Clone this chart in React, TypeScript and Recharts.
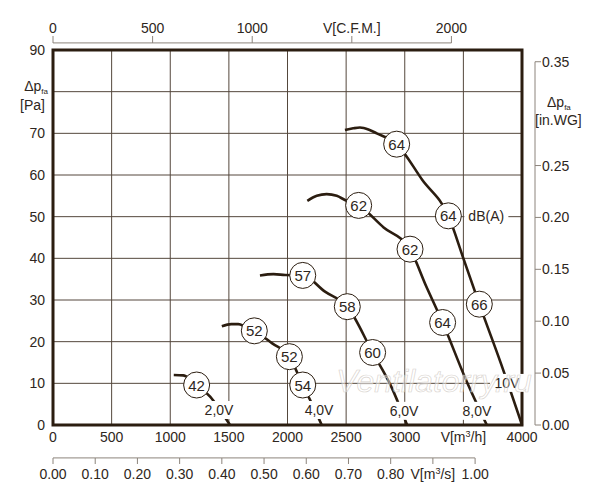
import {
  ComposedChart, Line, Scatter, XAxis, YAxis, CartesianGrid, ReferenceArea, ReferenceLine, ReferenceDot,
} from 'recharts';

// main scales
const flowTicks = [0, 500, 1000, 1500, 2000, 2500, 3000, 3500, 4000];
const paTicks = [0, 10, 20, 30, 40, 50, 60, 70, 80, 90];
// secondary scales
const cfmTicks = [0, 500, 1000, 1500, 2000];
const m3sTicks = [0, 0.1, 0.2, 0.3, 0.4, 0.5, 0.6, 0.7, 0.8, 0.9, 1.0];
const wgTicks = [0, 0.05, 0.1, 0.15, 0.2, 0.25, 0.3, 0.35];

const FLOW_MAX = 4000;
const PA_MAX = 90;
const M3H_PER_CFM = 1.69901;
const PA_PER_INWG = 249.089;

// fan curves, V [m3/h] vs dp [Pa]
const curve2V = [
  { x: 1030, y: 12.0 }, { x: 1110, y: 11.9 }, { x: 1170, y: 11.0 }, { x: 1225, y: 9.6 },
  { x: 1340, y: 6.8 }, { x: 1420, y: 3.8 }, { x: 1510, y: 0 },
];
const curve4V = [
  { x: 1440, y: 23.7 }, { x: 1520, y: 24.2 }, { x: 1580, y: 24.2 }, { x: 1640, y: 23.6 },
  { x: 1717, y: 22.6 }, { x: 1870, y: 19.6 }, { x: 2016, y: 16.4 }, { x: 2130, y: 9.6 },
  { x: 2210, y: 5 }, { x: 2292, y: 0 },
];
const curve6V = [
  { x: 1765, y: 35.9 }, { x: 1880, y: 36.2 }, { x: 1980, y: 36.0 }, { x: 2130, y: 35.9 },
  { x: 2320, y: 32 }, { x: 2510, y: 28.4 }, { x: 2726, y: 17.4 }, { x: 2880, y: 9.5 }, { x: 3020, y: 0 },
];
const curve8V = [
  { x: 2169, y: 53.8 }, { x: 2250, y: 55 }, { x: 2334, y: 55.4 }, { x: 2420, y: 55 },
  { x: 2490, y: 54 }, { x: 2607, y: 52.7 }, { x: 2820, y: 47.4 }, { x: 3045, y: 42.2 },
  { x: 3180, y: 33.5 }, { x: 3323, y: 24.6 }, { x: 3520, y: 11 }, { x: 3700, y: 0 },
];
const curve10V = [
  { x: 2490, y: 70.8 }, { x: 2560, y: 71.2 }, { x: 2618, y: 71.4 }, { x: 2700, y: 70.8 },
  { x: 2761, y: 70 }, { x: 2931, y: 67.4 }, { x: 3150, y: 58.8 }, { x: 3372, y: 50.2 },
  { x: 3500, y: 40 }, { x: 3636, y: 29 }, { x: 3820, y: 14.8 }, { x: 4000, y: 0 },
];
const curves = [curve2V, curve4V, curve6V, curve8V, curve10V];

// sound level markers dB(A)
const dbMarks = [
  { x: 1225, y: 9.6, db: 42 },
  { x: 1717, y: 22.6, db: 52 }, { x: 2016, y: 16.4, db: 52 }, { x: 2130, y: 9.6, db: 54 },
  { x: 2130, y: 35.9, db: 57 }, { x: 2510, y: 28.4, db: 58 }, { x: 2726, y: 17.4, db: 60 },
  { x: 2607, y: 52.7, db: 62 }, { x: 3045, y: 42.2, db: 62 }, { x: 3323, y: 24.6, db: 64 },
  { x: 2931, y: 67.4, db: 64 }, { x: 3372, y: 50.2, db: 64, unit: 'dB(A)' }, { x: 3636, y: 29, db: 66 },
];

const voltLabels = [
  { x: 1416, y: 3.6, text: '2,0V' },
  { x: 2269, y: 3.6, text: '4,0V' },
  { x: 2994, y: 3.4, text: '6,0V' },
  { x: 3616, y: 3.4, text: '8,0V' },
  { x: 3872, y: 10.1, text: '10V' },
];

// invisible helper series so the secondary x axes get a domain
const cfmSpan = cfmTicks.map((v) => ({ x: v, y: 0 }));
const m3sSpan = m3sTicks.map((v) => ({ x: v, y: 0 }));

const INK = '#2b1d10';
const TEXT = '#2e2620';
const GRID = '#54473c';
const AXIS_GREY = '#8c847c';
const FONT = '"Liberation Sans", Arial, sans-serif';

const FlowTick = ({ x, y, payload }: any) => (
  <text x={x} y={y + 17} textAnchor="middle" fontSize={14} fill={TEXT}>
    {payload.value === 3500 ? <>V[m<tspan fontSize={9} dy={-5}>3</tspan><tspan dy={5}>/h]</tspan></> : payload.value}
  </text>
);

const M3sTick = ({ x, y, payload }: any) => {
  const v = payload.value;
  const isLabel = Math.abs(v - 0.9) < 1e-6;
  return (
    <g>
      <line x1={x} x2={x} y1={y} y2={y + 6} stroke={AXIS_GREY} />
      <text x={x} y={y + 21} textAnchor="middle" fontSize={14} fill={TEXT}>
        {isLabel ? <>V[m<tspan fontSize={9} dy={-5}>3</tspan><tspan dy={5}>/s]</tspan></> : v.toFixed(2)}
      </text>
    </g>
  );
};

const CfmTick = ({ x, y, payload }: any) => (
  <g>
    <line x1={x} x2={x} y1={y - 7} y2={y - 14} stroke={AXIS_GREY} />
    <text x={x} y={y - 17} textAnchor="middle" fontSize={14} fill={TEXT}>
      {payload.value === 1500 ? 'V[C.F.M.]' : payload.value}
    </text>
  </g>
);

const PaTick = ({ x, y, payload }: any) => {
  if (payload.value === 80) {
    return (
      <g>
        <text x={48} y={y - 1} textAnchor="end" fontSize={14} fill={TEXT}>
          Δp<tspan fontSize={8} dy={3}>fa</tspan>
        </text>
        <text x={45} y={y + 18} textAnchor="end" fontSize={14} fill={TEXT}>[Pa]</text>
      </g>
    );
  }
  return (
    <text x={x - 8} y={y + 5} textAnchor="end" fontSize={14} fill={TEXT}>{payload.value}</text>
  );
};

const WgTick = ({ x, y, payload }: any) => {
  const v = payload.value;
  if (Math.abs(v - 0.3) < 1e-6) {
    return (
      <g>
        <text x={x + 25} y={y - 7} fontSize={14} fill={TEXT}>
          Δp<tspan fontSize={8} dy={3}>fa</tspan>
        </text>
        <text x={x + 13} y={y + 11} fontSize={14} fill={TEXT}>[in.WG]</text>
      </g>
    );
  }
  return (
    <g>
      <line x1={x + 13} x2={x + 19} y1={y} y2={y} stroke={AXIS_GREY} />
      <text x={x + 20} y={y + 5} fontSize={14} fill={TEXT}>{v.toFixed(2)}</text>
    </g>
  );
};

const DbMarker = ({ cx, cy, payload }: any) => (
  <g>
    <circle cx={cx} cy={cy} r={13} fill="#fff" stroke={INK} strokeWidth={1} />
    <text x={cx} y={cy + 5.5} textAnchor="middle" fontSize={15} fill={TEXT}>{payload.db}</text>
    {payload.unit && (
      <g>
        <rect x={cx + 16} y={cy - 9} width={44} height={18} fill="#fff" />
        <text x={cx + 20} y={cy + 5} fontSize={14} fill={TEXT}>{payload.unit}</text>
      </g>
    )}
  </g>
);

const VoltLabel = ({ cx, cy, payload }: any) => (
  <g>
    <rect x={cx - 17} y={cy - 9} width={34} height={18} fill="#fff" />
    <text x={cx} y={cy + 5} textAnchor="middle" fontSize={14} fill={TEXT}>{payload.text}</text>
  </g>
);

const Watermark = ({ cx, cy }: any) => (
  <text x={cx} y={cy} textAnchor="middle" fontSize={32} fontStyle="italic" fill="#ffffff" fillOpacity={0.45}
    stroke="#cfc9c3" strokeOpacity={0.8} strokeWidth={0.7} fontFamily={FONT}>
    Ventilatorry.ru
  </text>
);

export default function App() {
  return (
    <div style={{ position: 'absolute', left: 0, top: 0, width: 600, height: 500, background: '#fff', fontFamily: FONT }}>
      <ComposedChart width={600} height={500} margin={{ top: 0, right: 0, bottom: 0, left: 0 }}>
        <XAxis xAxisId="flow" dataKey="x" type="number" domain={[0, FLOW_MAX]} ticks={flowTicks} interval={0}
          axisLine={false} tickLine={false} tickSize={0} tickMargin={0} height={33} tick={<FlowTick />} />
        <XAxis xAxisId="m3s" dataKey="x" type="number" domain={[0, FLOW_MAX / 3600]} ticks={m3sTicks} interval={0}
          allowDataOverflow axisLine={false} tickLine={false} tickSize={0} tickMargin={0} height={42} tick={<M3sTick />} />
        <XAxis xAxisId="cfm" dataKey="x" orientation="top" type="number" domain={[0, FLOW_MAX / M3H_PER_CFM]} ticks={cfmTicks} interval={0}
          allowDataOverflow axisLine={false} tickLine={false} tickSize={0} tickMargin={0} height={50} tick={<CfmTick />} />
        <YAxis yAxisId="pa" dataKey="y" type="number" domain={[0, PA_MAX]} ticks={paTicks} interval={0}
          axisLine={false} tickLine={false} tickSize={0} tickMargin={0} width={53} tick={<PaTick />} />
        <YAxis yAxisId="wg" orientation="right" type="number" domain={[0, PA_MAX / PA_PER_INWG]} ticks={wgTicks} interval={0}
          allowDataOverflow axisLine={false} tickLine={false} tickSize={0} tickMargin={0} width={78} tick={<WgTick />} />

        <CartesianGrid xAxisId="flow" yAxisId="pa" stroke={GRID} strokeWidth={1} />

        <Line xAxisId="cfm" yAxisId="pa" data={cfmSpan} dataKey="y" stroke="none" dot={false} activeDot={false} isAnimationActive={false} />
        <Line xAxisId="m3s" yAxisId="pa" data={m3sSpan} dataKey="y" stroke="none" dot={false} activeDot={false} isAnimationActive={false} />

        {curves.map((c, i) => (
          <Line key={i} xAxisId="flow" yAxisId="pa" data={c} dataKey="y" type="monotone" stroke={INK}
            strokeWidth={2.6} dot={false} activeDot={false} isAnimationActive={false} />
        ))}

        <ReferenceArea xAxisId="flow" yAxisId="pa" x1={0} x2={FLOW_MAX} y1={0} y2={PA_MAX}
          fill="none" stroke={INK} strokeWidth={3} ifOverflow="visible" />

        <Scatter xAxisId="flow" yAxisId="pa" data={voltLabels} shape={<VoltLabel />} isAnimationActive={false} />
        <Scatter xAxisId="flow" yAxisId="pa" data={dbMarks} shape={<DbMarker />} isAnimationActive={false} />

        <ReferenceDot xAxisId="flow" yAxisId="pa" x={3250} y={8.0} r={0} ifOverflow="visible" shape={<Watermark />} />

        <ReferenceLine xAxisId="cfm" yAxisId="pa" ifOverflow="visible" stroke={AXIS_GREY}
          segment={[{ x: 0, y: 91.7 }, { x: 2000, y: 91.7 }]} />
        <ReferenceLine xAxisId="m3s" yAxisId="pa" ifOverflow="visible" stroke={AXIS_GREY}
          segment={[{ x: 0, y: -7.9 }, { x: 1, y: -7.9 }]} />
        <ReferenceLine xAxisId="flow" yAxisId="wg" ifOverflow="visible" stroke={AXIS_GREY}
          segment={[{ x: 4111, y: 0 }, { x: 4111, y: 0.35 }]} />
      </ComposedChart>
    </div>
  );
}
